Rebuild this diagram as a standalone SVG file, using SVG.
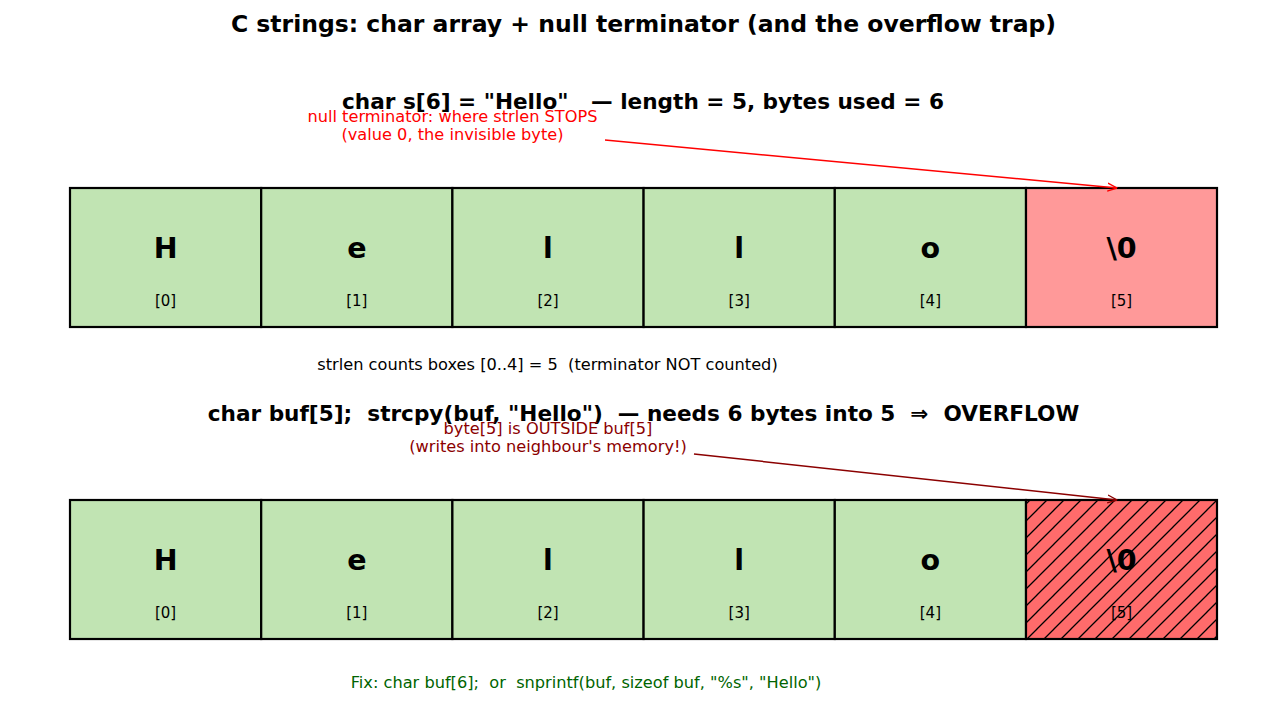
<svg xmlns="http://www.w3.org/2000/svg" width="1287" height="707" viewBox="0 0 1287 707">
<style>
text{font-family:"DejaVu Sans","Liberation Sans",sans-serif;text-anchor:middle;white-space:pre}
.t{font-weight:bold;font-size:23.5px;fill:#000}
.s{font-weight:bold;font-size:21.6px;fill:#000}
.ch{font-weight:bold;font-size:28.5px;fill:#000}
.ix{font-size:15px;fill:#000}
.n{font-size:16.2px}
.cell{stroke:#000;stroke-width:2.2}
.g{fill:#c1e4b3}
</style>
<defs>
<marker id="ar" viewBox="0 0 10 10" refX="9.5" refY="5" markerWidth="10" markerHeight="10" markerUnits="userSpaceOnUse" orient="auto"><path d="M0,1 L9.5,5 L0,9" fill="none" stroke="red" stroke-width="1.4"/></marker>
<marker id="ad" viewBox="0 0 10 10" refX="9.5" refY="5" markerWidth="10" markerHeight="10" markerUnits="userSpaceOnUse" orient="auto"><path d="M0,1 L9.5,5 L0,9" fill="none" stroke="#8b0000" stroke-width="1.4"/></marker>
<pattern id="hatch" patternUnits="userSpaceOnUse" width="17" height="17">
<rect width="17" height="17" fill="#ff6b6b"/>
<path d="M-1,18 L18,-1 M-9,9 L9,-9 M8,26 L26,8" stroke="#000" stroke-width="1.3"/>
</pattern>
</defs>
<text class="t" x="643.5" y="32">C strings: char array + null terminator (and the overflow trap)</text>
<text class="s" x="643" y="109">char s[6] = "Hello"   — length = 5, bytes used = 6</text>
<text class="n" x="452.5" y="122" fill="red">null terminator: where strlen STOPS</text>
<text class="n" x="452.5" y="140" fill="red">(value 0, the invisible byte)</text>
<g id="row1">
<g id="s0"><rect class="cell g" x="70" y="188" width="191.2" height="139"/><text class="ch" x="165.6" y="258">H</text><text class="ix" x="165.6" y="306">[0]</text></g>
<g id="s1"><rect class="cell g" x="261.2" y="188" width="191.2" height="139"/><text class="ch" x="356.8" y="258">e</text><text class="ix" x="356.8" y="306">[1]</text></g>
<g id="s2"><rect class="cell g" x="452.4" y="188" width="191.2" height="139"/><text class="ch" x="548" y="258">l</text><text class="ix" x="548" y="306">[2]</text></g>
<g id="s3"><rect class="cell g" x="643.6" y="188" width="191.2" height="139"/><text class="ch" x="739.2" y="258">l</text><text class="ix" x="739.2" y="306">[3]</text></g>
<g id="s4"><rect class="cell g" x="834.8" y="188" width="191.2" height="139"/><text class="ch" x="930.4" y="258">o</text><text class="ix" x="930.4" y="306">[4]</text></g>
<g id="s5"><rect class="cell" fill="#ff9999" x="1026" y="188" width="191" height="139"/><text class="ch" x="1121.5" y="258">\0</text><text class="ix" x="1121.5" y="306">[5]</text></g>
</g>
<text class="n" x="547.5" y="370" fill="#000">strlen counts boxes [0..4] = 5  (terminator NOT counted)</text>
<text class="s" x="643.5" y="421">char buf[5];  strcpy(buf, "Hello")  — needs 6 bytes into 5  ⇒  OVERFLOW</text>
<text class="n" x="548" y="434" fill="#8b0000">byte[5] is OUTSIDE buf[5]</text>
<text class="n" x="548" y="452" fill="#8b0000">(writes into neighbour's memory!)</text>
<g id="row2">
<g id="b0"><rect class="cell g" x="70" y="500" width="191.2" height="139"/><text class="ch" x="165.6" y="570">H</text><text class="ix" x="165.6" y="618">[0]</text></g>
<g id="b1"><rect class="cell g" x="261.2" y="500" width="191.2" height="139"/><text class="ch" x="356.8" y="570">e</text><text class="ix" x="356.8" y="618">[1]</text></g>
<g id="b2"><rect class="cell g" x="452.4" y="500" width="191.2" height="139"/><text class="ch" x="548" y="570">l</text><text class="ix" x="548" y="618">[2]</text></g>
<g id="b3"><rect class="cell g" x="643.6" y="500" width="191.2" height="139"/><text class="ch" x="739.2" y="570">l</text><text class="ix" x="739.2" y="618">[3]</text></g>
<g id="b4"><rect class="cell g" x="834.8" y="500" width="191.2" height="139"/><text class="ch" x="930.4" y="570">o</text><text class="ix" x="930.4" y="618">[4]</text></g>
<g id="b5"><rect class="cell" fill="url(#hatch)" x="1026" y="500" width="191" height="139"/><text class="ch" x="1121.5" y="570">\0</text><text class="ix" x="1121.5" y="618">[5]</text></g>
</g>
<text class="n" x="586" y="688" fill="#006400">Fix: char buf[6];  or  snprintf(buf, sizeof buf, "%s", "Hello")</text>
<g id="connectors">
<line x1="605" y1="140" x2="1117" y2="188" stroke="red" stroke-width="1.5" marker-end="url(#ar)"/>
<line x1="694" y1="454" x2="1117" y2="500" stroke="#8b0000" stroke-width="1.5" marker-end="url(#ad)"/>
</g>
</svg>
